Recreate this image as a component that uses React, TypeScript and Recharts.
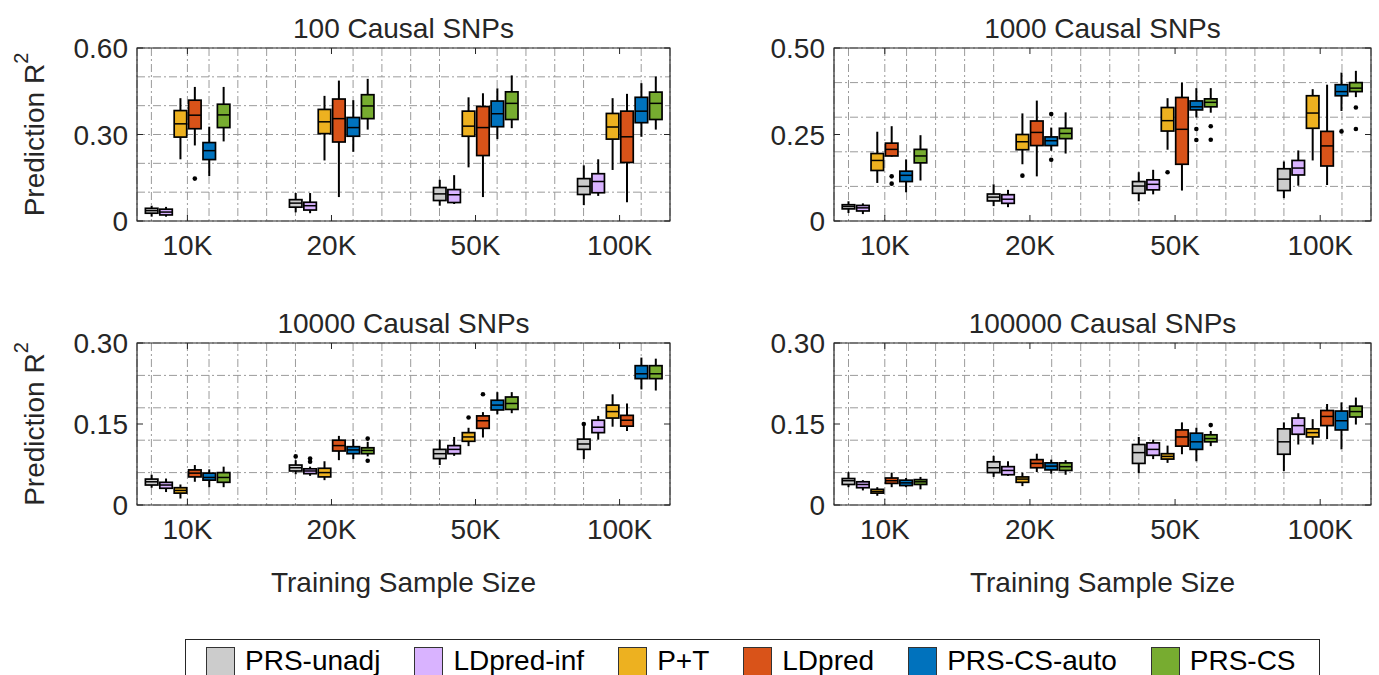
import React from "react";
import {
  ComposedChart,
  Bar,
  XAxis,
  YAxis,
  CartesianGrid,
  ReferenceArea,
} from "recharts";

const FONT = '"Liberation Sans", Arial, Helvetica, sans-serif';
const INK = "#262626";

const methods = ["PRS-unadj", "LDpred-inf", "P+T", "LDpred", "PRS-CS-auto", "PRS-CS"];
const colors = ["#cccccc", "#d9b3ff", "#edb120", "#d95319", "#0072bd", "#77ac30"];
const sizeLabels = ["10K", "20K", "50K", "100K"];
const sizePos = [3.5, 13.5, 23.5, 33.5];
const gridX = [1, 3.5, 5, 7, 9, 11, 13.5, 15, 17, 19, 21, 23.5, 25, 27, 29, 31, 33.5, 35];

// each box: [low whisker, q1, median, q3, high whisker], indexed [method][sample size]
const snp100 = [
  [[0.015, 0.027, 0.036, 0.044, 0.053], [0.030, 0.048, 0.062, 0.074, 0.097], [0.053, 0.071, 0.094, 0.116, 0.143], [0.055, 0.092, 0.120, 0.147, 0.193]],
  [[0.015, 0.021, 0.031, 0.041, 0.049], [0.027, 0.038, 0.053, 0.065, 0.097], [0.059, 0.064, 0.091, 0.109, 0.159], [0.087, 0.098, 0.137, 0.164, 0.214]],
  [[0.214, 0.291, 0.337, 0.383, 0.426], [0.210, 0.303, 0.344, 0.387, 0.434], [0.186, 0.294, 0.329, 0.381, 0.429], [0.177, 0.284, 0.326, 0.373, 0.426]],
  [[0.262, 0.320, 0.367, 0.419, 0.465], [0.083, 0.274, 0.355, 0.423, 0.487], [0.083, 0.227, 0.324, 0.397, 0.443], [0.065, 0.203, 0.292, 0.381, 0.441]],
  [[0.156, 0.213, 0.244, 0.272, 0.327], [0.240, 0.294, 0.324, 0.359, 0.419], [0.284, 0.327, 0.372, 0.416, 0.460], [0.292, 0.341, 0.381, 0.429, 0.478]],
  [[0.276, 0.324, 0.368, 0.405, 0.465], [0.317, 0.355, 0.399, 0.438, 0.493], [0.322, 0.352, 0.408, 0.448, 0.505], [0.317, 0.352, 0.408, 0.447, 0.501]],
];
const snp100Out = [
  [[], [], [], []],
  [[], [], [], []],
  [[], [], [], []],
  [[0.147], [], [], []],
  [[], [], [], []],
  [[], [], [], []],
];

const snp1000 = [
  [[0.023, 0.035, 0.042, 0.047, 0.057], [0.043, 0.058, 0.069, 0.078, 0.106], [0.057, 0.080, 0.101, 0.114, 0.141], [0.066, 0.088, 0.121, 0.151, 0.172]],
  [[0.020, 0.029, 0.038, 0.045, 0.051], [0.040, 0.051, 0.063, 0.076, 0.090], [0.077, 0.090, 0.106, 0.119, 0.148], [0.102, 0.133, 0.153, 0.175, 0.204]],
  [[0.110, 0.146, 0.175, 0.195, 0.258], [0.164, 0.206, 0.229, 0.250, 0.311], [0.206, 0.260, 0.290, 0.328, 0.355], [0.175, 0.268, 0.312, 0.362, 0.381]],
  [[0.186, 0.188, 0.207, 0.225, 0.274], [0.129, 0.218, 0.256, 0.289, 0.348], [0.088, 0.164, 0.265, 0.357, 0.400], [0.104, 0.159, 0.217, 0.259, 0.394]],
  [[0.083, 0.114, 0.132, 0.144, 0.178], [0.203, 0.218, 0.232, 0.243, 0.270], [0.299, 0.321, 0.330, 0.347, 0.384], [0.318, 0.362, 0.374, 0.394, 0.429]],
  [[0.117, 0.168, 0.188, 0.207, 0.248], [0.195, 0.238, 0.253, 0.268, 0.314], [0.313, 0.330, 0.343, 0.353, 0.384], [0.358, 0.374, 0.384, 0.400, 0.434]],
];
const snp1000Out = [
  [[], [], [], []],
  [[], [], [], []],
  [[], [0.131], [0.141], []],
  [[0.129, 0.108], [], [], []],
  [[], [0.309, 0.177], [0.266, 0.234], [0.259]],
  [[], [], [0.274, 0.235], [0.328, 0.266]],
];

const snp10000 = [
  [[0.032, 0.037, 0.043, 0.048, 0.056], [0.057, 0.063, 0.069, 0.074, 0.083], [0.074, 0.086, 0.095, 0.103, 0.121], [0.085, 0.103, 0.113, 0.122, 0.147]],
  [[0.024, 0.031, 0.037, 0.042, 0.049], [0.054, 0.058, 0.063, 0.067, 0.071], [0.091, 0.095, 0.103, 0.110, 0.126], [0.121, 0.134, 0.144, 0.157, 0.165]],
  [[0.012, 0.022, 0.027, 0.032, 0.038], [0.046, 0.052, 0.060, 0.068, 0.081], [0.109, 0.118, 0.126, 0.134, 0.143], [0.145, 0.161, 0.173, 0.185, 0.205]],
  [[0.043, 0.052, 0.059, 0.065, 0.074], [0.083, 0.100, 0.110, 0.120, 0.128], [0.125, 0.142, 0.156, 0.165, 0.172], [0.137, 0.146, 0.157, 0.166, 0.188]],
  [[0.033, 0.046, 0.051, 0.059, 0.066], [0.085, 0.095, 0.102, 0.108, 0.122], [0.168, 0.176, 0.185, 0.194, 0.209], [0.214, 0.234, 0.243, 0.258, 0.273]],
  [[0.033, 0.042, 0.051, 0.060, 0.071], [0.090, 0.095, 0.101, 0.106, 0.117], [0.170, 0.177, 0.188, 0.200, 0.209], [0.212, 0.234, 0.243, 0.258, 0.271]],
];
const snp10000Out = [
  [[], [0.090], [], [0.150]],
  [[], [0.086, 0.080], [], []],
  [[], [], [0.162], []],
  [[], [], [0.205], []],
  [[], [], [], []],
  [[], [0.123, 0.082], [], []],
];

const snp100000 = [
  [[0.033, 0.038, 0.045, 0.049, 0.061], [0.052, 0.060, 0.069, 0.080, 0.091], [0.059, 0.077, 0.097, 0.112, 0.126], [0.063, 0.094, 0.117, 0.141, 0.153]],
  [[0.027, 0.032, 0.038, 0.043, 0.046], [0.054, 0.056, 0.064, 0.071, 0.081], [0.085, 0.092, 0.103, 0.115, 0.121], [0.112, 0.131, 0.147, 0.161, 0.170]],
  [[0.017, 0.022, 0.025, 0.029, 0.033], [0.035, 0.042, 0.048, 0.052, 0.060], [0.078, 0.085, 0.090, 0.095, 0.110], [0.112, 0.126, 0.134, 0.141, 0.159]],
  [[0.033, 0.040, 0.045, 0.050, 0.060], [0.061, 0.069, 0.077, 0.084, 0.095], [0.094, 0.109, 0.126, 0.139, 0.153], [0.122, 0.147, 0.164, 0.175, 0.187]],
  [[0.033, 0.036, 0.041, 0.046, 0.050], [0.058, 0.065, 0.072, 0.078, 0.084], [0.081, 0.103, 0.117, 0.133, 0.143], [0.103, 0.139, 0.156, 0.174, 0.190]],
  [[0.029, 0.038, 0.043, 0.047, 0.052], [0.056, 0.064, 0.071, 0.078, 0.083], [0.109, 0.117, 0.123, 0.130, 0.137], [0.149, 0.163, 0.173, 0.183, 0.199]],
];
const snp100000Out = [
  [[], [], [], []],
  [[], [], [], []],
  [[], [], [], []],
  [[], [], [], []],
  [[], [], [], []],
  [[], [], [0.148], []],
];

const YW = 90; // y axis band
const XH = 40; // x axis band

function boxShape(stats: number[][], outs: number[][], color: string) {
  return (props: any) => {
    const { x, y, width, height, payload } = props;
    const s = stats[payload.i];
    const top = Math.min(y, y + height);
    const h = Math.abs(height);
    const ppu = h / (s[3] - s[1]);
    const py = (v: number) => top + (s[3] - v) * ppu;
    const cx = x + width / 2;
    return (
      <g>
        <line x1={cx} x2={cx} y1={py(s[4])} y2={top} stroke="#000" strokeWidth={2} />
        <line x1={cx} x2={cx} y1={top + h} y2={py(s[0])} stroke="#000" strokeWidth={2} />
        <rect x={x} y={top} width={width} height={h} fill={color} stroke="#000" strokeWidth={1.7} />
        <line x1={x} x2={x + width} y1={py(s[2])} y2={py(s[2])} stroke="#000" strokeWidth={1.5} />
        {outs[payload.i].map((o, k) => (
          <circle key={k} cx={cx} cy={py(o)} r={2.3} fill="#000" />
        ))}
      </g>
    );
  };
}

interface PanelProps {
  stats: number[][][];
  outs: number[][][];
  yMax: number;
  yTicks: number[];
  gridStep: number;
  left: number;
  top: number;
  width: number;
  height: number;
  plotLeft: number;
  plotTop: number;
  plotW: number;
  plotH: number;
}

function Panel(p: PanelProps) {
  const rows = sizePos.map((pos, i) => {
    const r: any = { pos, i };
    methods.forEach((_, m) => {
      r["m" + m] = [p.stats[m][i][1], p.stats[m][i][3]];
    });
    return r;
  });
  const gridY: number[] = [];
  for (let v = 0; v <= p.yMax + 1e-9; v += p.gridStep) gridY.push(+v.toFixed(3));

  const bottom = p.plotTop + p.plotH;
  const XTick = (t: any) => {
    const cx = t.payload.coordinate;
    return (
      <g>
        <line x1={cx} x2={cx} y1={bottom} y2={bottom - 6} stroke={INK} />
        <line x1={cx} x2={cx} y1={p.plotTop} y2={p.plotTop + 6} stroke={INK} />
        <text x={cx} y={bottom + 34} textAnchor="middle" fontSize={28} fontFamily={FONT} fill={INK}>
          {sizeLabels[sizePos.indexOf(t.payload.value)]}
        </text>
      </g>
    );
  };
  const YTick = (t: any) => {
    const cy = t.payload.coordinate;
    const l = p.plotLeft;
    return (
      <g>
        <line x1={l} x2={l + 6} y1={cy} y2={cy} stroke={INK} />
        <line x1={l + p.plotW - 6} x2={l + p.plotW} y1={cy} y2={cy} stroke={INK} />
        <text x={l - 9} y={cy + 10} textAnchor="end" fontSize={28} fontFamily={FONT} fill={INK}>
          {t.payload.value === 0 ? "0" : t.payload.value.toFixed(2)}
        </text>
      </g>
    );
  };

  return (
    <div style={{ position: "absolute", left: p.left, top: p.top }}>
      <ComposedChart
        width={p.width}
        height={p.height}
        data={rows}
        barSize={12.5}
        barGap={1.9}
        margin={{
          top: p.plotTop,
          left: p.plotLeft - YW,
          right: p.width - p.plotLeft - p.plotW,
          bottom: p.height - p.plotTop - p.plotH - XH,
        }}
      >
        <XAxis xAxisId="grid" dataKey="pos" type="number" domain={[0, 37]} ticks={gridX} hide allowDataOverflow />
        <YAxis yAxisId="grid" type="number" domain={[0, p.yMax]} ticks={gridY} hide allowDataOverflow />
        <XAxis
          xAxisId="main"
          dataKey="pos"
          type="number"
          domain={[0, 37]}
          ticks={sizePos}
          interval={0}
          height={XH}
          axisLine={false}
          tickLine={false}
          tick={<XTick />}
          allowDataOverflow
        />
        <YAxis
          yAxisId="main"
          type="number"
          domain={[0, p.yMax]}
          ticks={p.yTicks}
          interval={0}
          width={YW}
          axisLine={false}
          tickLine={false}
          tick={<YTick />}
          allowDataOverflow
        />
        <CartesianGrid xAxisId="grid" yAxisId="grid" stroke="#9b9b9b" strokeDasharray="8 3 2 3" />
        <ReferenceArea
          xAxisId="main"
          yAxisId="main"
          x1={0}
          x2={37}
          y1={0}
          y2={p.yMax}
          fill="none"
          stroke={INK}
          strokeWidth={1.2}
          ifOverflow="visible"
        />
        {methods.map((name, m) => (
          <Bar
            key={name}
            name={name}
            xAxisId="main"
            yAxisId="main"
            dataKey={"m" + m}
            fill={colors[m]}
            isAnimationActive={false}
            shape={boxShape(p.stats[m], p.outs[m], colors[m])}
          />
        ))}
      </ComposedChart>
    </div>
  );
}

const txt = { fontFamily: FONT, fontSize: 28, fill: INK };

export default function App() {
  return (
    <div
      style={{
        position: "fixed",
        left: 0,
        top: 0,
        width: 1379,
        height: 675,
        background: "#fff",
        overflow: "hidden",
        fontFamily: FONT,
      }}
    >
      <Panel stats={snp100} outs={snp100Out} yMax={0.6} yTicks={[0, 0.3, 0.6]} gridStep={0.05}
        left={0} top={0} width={700} height={290} plotLeft={137} plotTop={48} plotW={533} plotH={173} />
      <Panel stats={snp1000} outs={snp1000Out} yMax={0.5} yTicks={[0, 0.25, 0.5]} gridStep={0.05}
        left={700} top={0} width={679} height={290} plotLeft={134} plotTop={48} plotW={537} plotH={173} />
      <Panel stats={snp10000} outs={snp10000Out} yMax={0.3} yTicks={[0, 0.15, 0.3]} gridStep={0.03}
        left={0} top={290} width={700} height={260} plotLeft={137} plotTop={53} plotW={533} plotH={162} />
      <Panel stats={snp100000} outs={snp100000Out} yMax={0.3} yTicks={[0, 0.15, 0.3]} gridStep={0.03}
        left={700} top={290} width={679} height={260} plotLeft={134} plotTop={53} plotW={537} plotH={162} />

      <svg width={1379} height={675} style={{ position: "absolute", left: 0, top: 0, pointerEvents: "none" }}>
        <text x={403.5} y={38} textAnchor="middle" {...txt}>100 Causal SNPs</text>
        <text x={1102.5} y={38} textAnchor="middle" {...txt}>1000 Causal SNPs</text>
        <text x={403.5} y={333} textAnchor="middle" {...txt}>10000 Causal SNPs</text>
        <text x={1102.5} y={333} textAnchor="middle" {...txt}>100000 Causal SNPs</text>
        {[134.5, 424].map((cy) => (
          <text key={cy} x={43.5} y={cy} textAnchor="middle" transform={`rotate(-90 43.5 ${cy})`} {...txt}>
            Prediction R<tspan fontSize={20} dy={-16}>2</tspan>
          </text>
        ))}
        <text x={403.5} y={592} textAnchor="middle" {...txt}>Training Sample Size</text>
        <text x={1102.5} y={592} textAnchor="middle" {...txt}>Training Sample Size</text>
      </svg>

      <div
        style={{
          position: "absolute",
          left: 185,
          top: 639,
          width: 1135,
          height: 44,
          boxSizing: "border-box",
          border: `1px solid ${INK}`,
          display: "flex",
          alignItems: "center",
          paddingLeft: 20,
          whiteSpace: "nowrap",
        }}
      >
        {methods.map((name, m) => (
          <div key={name} style={{ display: "flex", alignItems: "center", marginRight: 34, flexShrink: 0 }}>
            <span
              style={{
                display: "inline-block",
                width: 27,
                height: 27,
                background: colors[m],
                border: "1px solid #333",
                marginRight: 10,
                flexShrink: 0,
              }}
            />
            <span style={{ fontSize: 28, lineHeight: 1, color: "#000" }}>{name}</span>
          </div>
        ))}
      </div>
    </div>
  );
}
